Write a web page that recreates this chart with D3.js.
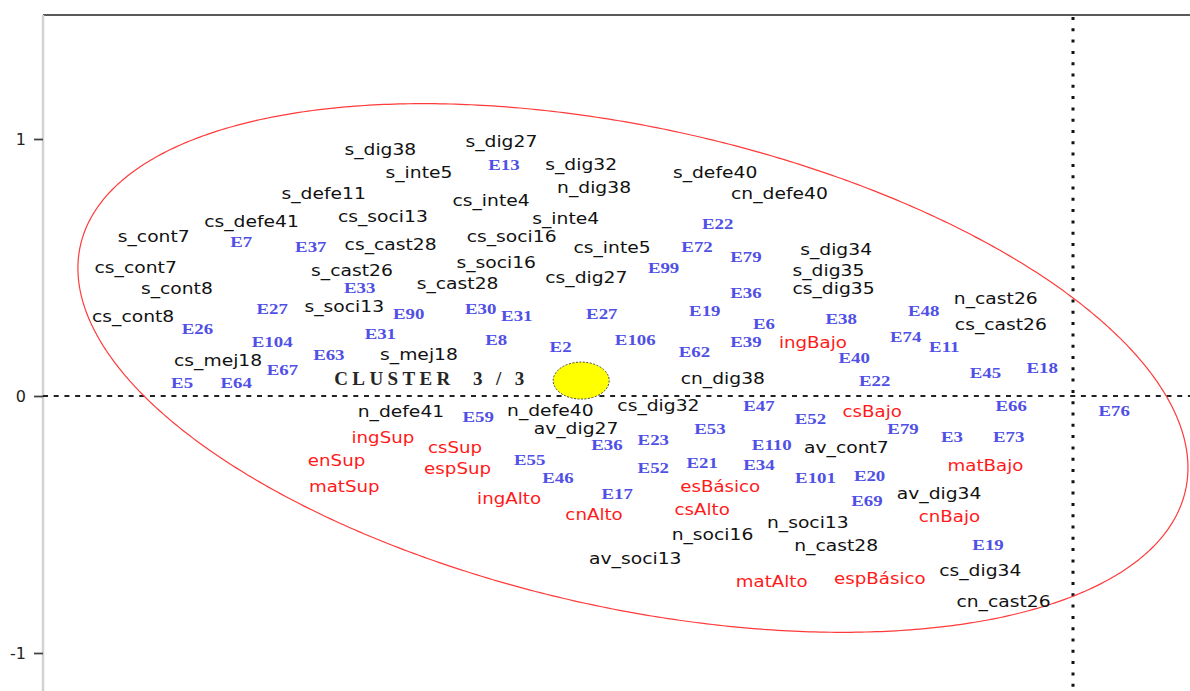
<!DOCTYPE html>
<html>
<head>
<meta charset="utf-8">
<script src="https://cdn.jsdelivr.net/npm/d3@7"></script>
<style>
  body { margin: 0; background: #fff; }
</style>
</head>
<body>
<div id="plano"></div>
<script>
// modalidades activas (negro): [etiqueta, eje1, eje2]
var modalidades = [
  ["s_dig38", -2.69, 0.96], ["s_dig27", -2.22, 0.99], ["s_inte5", -2.54, 0.87],
  ["s_dig32", -1.91, 0.90], ["n_dig38", -1.86, 0.81], ["s_defe40", -1.39, 0.87],
  ["cn_defe40", -1.14, 0.79], ["s_defe11", -2.91, 0.79], ["cs_inte4", -2.26, 0.76],
  ["cs_soci13", -2.68, 0.70], ["s_inte4", -1.97, 0.69], ["cs_defe41", -3.19, 0.68],
  ["s_cont7", -3.57, 0.62], ["cs_cast28", -2.65, 0.59], ["cs_soci16", -2.18, 0.62],
  ["cs_inte5", -1.79, 0.58], ["s_dig34", -0.92, 0.57], ["cs_cont7", -3.64, 0.50],
  ["s_cast26", -2.80, 0.49], ["s_soci16", -2.24, 0.52], ["s_dig35", -0.95, 0.49],
  ["cs_dig27", -1.89, 0.46], ["s_cont8", -3.48, 0.42], ["s_cast28", -2.39, 0.44],
  ["cs_dig35", -0.93, 0.42], ["n_cast26", -0.30, 0.38], ["s_soci13", -2.83, 0.35],
  ["cs_cont8", -3.65, 0.31], ["cs_cast26", -0.28, 0.28], ["cs_mej18", -3.32, 0.14],
  ["s_mej18", -2.54, 0.16], ["cn_dig38", -1.36, 0.07], ["n_defe41", -2.61, -0.06],
  ["n_defe40", -2.03, -0.055], ["cs_dig32", -1.61, -0.035], ["av_dig27", -1.93, -0.125],
  ["av_cont7", -0.88, -0.20], ["av_dig34", -0.52, -0.38], ["n_soci13", -1.03, -0.49],
  ["n_soci16", -1.40, -0.54], ["n_cast28", -0.92, -0.58], ["av_soci13", -1.70, -0.63],
  ["cs_dig34", -0.36, -0.68], ["cn_cast26", -0.27, -0.80]
];

// variables ilustrativas (rojo)
var ilustrativas = [
  ["ingBajo", -1.01, 0.21], ["csBajo", -0.78, -0.06], ["ingSup", -2.68, -0.16],
  ["csSup", -2.40, -0.20], ["enSup", -2.86, -0.25], ["espSup", -2.39, -0.28],
  ["matBajo", -0.34, -0.27], ["matSup", -2.83, -0.35], ["esBásico", -1.37, -0.35],
  ["ingAlto", -2.19, -0.40], ["csAlto", -1.44, -0.44], ["cnAlto", -1.86, -0.46],
  ["cnBajo", -0.48, -0.47], ["matAlto", -1.17, -0.72], ["espBásico", -0.75, -0.71]
];

// individuos (azul)
var individuos = [
  ["E13", -2.21, 0.90], ["E22", -1.38, 0.67], ["E7", -3.23, 0.60], ["E37", -2.96, 0.58],
  ["E72", -1.46, 0.58], ["E79", -1.27, 0.54], ["E99", -1.59, 0.50], ["E33", -2.77, 0.42],
  ["E36", -1.27, 0.40], ["E27", -3.11, 0.34], ["E90", -2.58, 0.32], ["E30", -2.30, 0.34],
  ["E31", -2.16, 0.31], ["E27", -1.83, 0.32], ["E19", -1.43, 0.33], ["E48", -0.58, 0.33],
  ["E38", -0.90, 0.30], ["E26", -3.40, 0.26], ["E6", -1.20, 0.28], ["E104", -3.11, 0.21],
  ["E31", -2.69, 0.24], ["E8", -2.24, 0.22], ["E2", -1.99, 0.19], ["E106", -1.70, 0.22],
  ["E39", -1.27, 0.21], ["E74", -0.65, 0.23], ["E11", -0.50, 0.19], ["E62", -1.47, 0.17],
  ["E40", -0.85, 0.15], ["E63", -2.89, 0.16], ["E67", -3.07, 0.10], ["E18", -0.12, 0.11],
  ["E45", -0.34, 0.09], ["E22", -0.77, 0.06], ["E5", -3.46, 0.05], ["E64", -3.25, 0.05],
  ["E59", -2.31, -0.08], ["E47", -1.22, -0.04], ["E52", -1.02, -0.09], ["E66", -0.24, -0.04],
  ["E76", 0.16, -0.06], ["E36", -1.81, -0.19], ["E23", -1.63, -0.17], ["E53", -1.41, -0.13],
  ["E110", -1.17, -0.19], ["E79", -0.66, -0.13], ["E3", -0.47, -0.16], ["E73", -0.25, -0.16],
  ["E55", -2.11, -0.25], ["E52", -1.63, -0.28], ["E21", -1.44, -0.26], ["E34", -1.22, -0.27],
  ["E46", -2.00, -0.32], ["E101", -1.00, -0.32], ["E20", -0.79, -0.31], ["E17", -1.77, -0.38],
  ["E69", -0.80, -0.41], ["E19", -0.33, -0.58]
];

var yTicks = [-1, 0, 1];
var clusterCentro = [-1.91, 0.06];
var clusterTexto = ["CLUSTER  3 / 3", -2.50, 0.07];
// elipse del cluster en unidades del plano (angulo en grados)
var elipse = { cx: -1.709, cy: 0.109, rx: 2.198, ry: 0.934, angulo: -12.5 };

var width = 1190, height = 691;

var svg = d3.select("#plano")
  .append("svg")
  .attr("width", width)
  .attr("height", height);

var x = d3.scaleLinear().domain([-4, 0]).range([43, 1073]);
var y = d3.scaleLinear().domain([-1, 1]).range([653, 139]);

// marco: linea superior y eje vertical
svg.append("line")
  .attr("x1", x.range()[0]).attr("x2", width)
  .attr("y1", 15).attr("y2", 15)
  .attr("stroke", "#5a5a5a")
  .attr("stroke-width", 2);

svg.append("line")
  .attr("x1", x.range()[0]).attr("x2", x.range()[0])
  .attr("y1", 15).attr("y2", height)
  .attr("stroke", "#d2d2d2")
  .attr("stroke-width", 2.5);

var ejeY = svg.append("g")
  .attr("transform", "translate(" + x.range()[0] + ",0)")
  .call(d3.axisLeft(y).tickValues(yTicks).tickSize(9).tickPadding(8)
    .tickFormat(function (d) { return String(d); }));
ejeY.select(".domain").remove();
ejeY.selectAll(".tick line").attr("stroke", "#444").attr("stroke-width", 1.8);
ejeY.selectAll(".tick text")
  .style("font-family", "DejaVu Sans, sans-serif")
  .style("font-size", "16px")
  .attr("fill", "#222");

// lineas punteadas de los ejes
svg.append("line")
  .attr("x1", x.range()[0]).attr("x2", width)
  .attr("y1", y(0)).attr("y2", y(0))
  .attr("stroke", "#222")
  .attr("stroke-width", 2)
  .attr("stroke-dasharray", "5,5.7");

svg.append("line")
  .attr("x1", x(0)).attr("x2", x(0))
  .attr("y1", 17).attr("y2", height)
  .attr("stroke", "#111")
  .attr("stroke-width", 3)
  .attr("stroke-dasharray", "3,8.3");

// elipse roja
var fi = elipse.angulo * Math.PI / 180;
var puntosElipse = d3.range(0, 2 * Math.PI, 0.01).map(function (t) {
  var u = elipse.rx * Math.cos(t), v = elipse.ry * Math.sin(t);
  return [elipse.cx + u * Math.cos(fi) - v * Math.sin(fi),
          elipse.cy + u * Math.sin(fi) + v * Math.cos(fi)];
});
svg.append("path")
  .datum(puntosElipse)
  .attr("fill", "none")
  .attr("stroke", "#ff3a3a")
  .attr("stroke-width", 1.2)
  .attr("d", d3.line()
    .x(function (d) { return x(d[0]); })
    .y(function (d) { return y(d[1]); })
    .curve(d3.curveLinearClosed));

// centro del cluster
svg.append("ellipse")
  .attr("cx", x(clusterCentro[0]))
  .attr("cy", y(clusterCentro[1]))
  .attr("rx", 28)
  .attr("ry", 18.5)
  .attr("fill", "#ffff00")
  .attr("stroke", "#444")
  .attr("stroke-width", 1)
  .attr("stroke-dasharray", "2,1.5");

svg.append("text")
  .attr("x", x(clusterTexto[1]))
  .attr("y", y(clusterTexto[2]))
  .attr("dy", "0.35em")
  .attr("text-anchor", "middle")
  .attr("textLength", 190)
  .attr("lengthAdjust", "spacing")
  .style("font-family", "Liberation Serif, serif")
  .style("font-size", "19px")
  .style("font-weight", "bold")
  .style("white-space", "pre")
  .attr("fill", "#262626")
  .text(clusterTexto[0]);

// etiquetas (texto algo ensanchado como en la imagen)
function etiquetas(datos, color, fuente, tam, peso, escala) {
  svg.append("g")
    .selectAll("text")
    .data(datos)
    .enter()
    .append("text")
    .attr("transform", function (d) {
      return "translate(" + x(d[1]) + "," + y(d[2]) + ") scale(" + escala + ",1)";
    })
    .attr("dy", "0.35em")
    .attr("text-anchor", "middle")
    .style("font-family", fuente)
    .style("font-size", tam + "px")
    .style("font-weight", peso)
    .attr("fill", color)
    .text(function (d) { return d[0]; });
}

etiquetas(modalidades, "#111", "DejaVu Sans, sans-serif", 16, "normal", 1.17);
etiquetas(ilustrativas, "#ff1a1a", "DejaVu Sans, sans-serif", 16, "normal", 1.14);
etiquetas(individuos, "#5050e6", "Liberation Serif, serif", 14.5, "bold", 1.3);
</script>
</body>
</html>
